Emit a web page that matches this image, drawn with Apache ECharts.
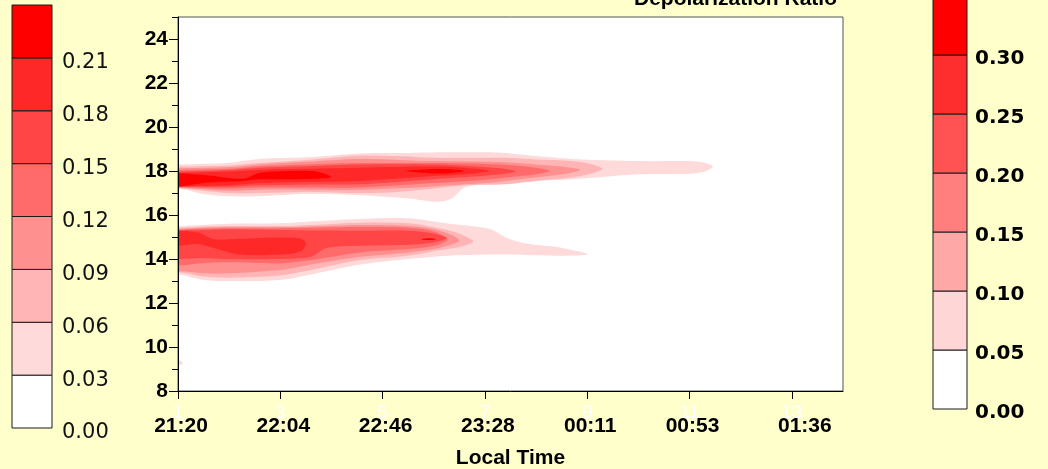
<!DOCTYPE html>
<html>
<head>
<meta charset="utf-8">
<script src="https://cdn.jsdelivr.net/npm/echarts@6/dist/echarts.min.js"></script>
<style>
  html, body { margin: 0; padding: 0; background: #FFFFCC; }
  #chart { width: 1048px; height: 469px; }
</style>
</head>
<body>
<div id="chart"></div>
<script>
// Profile numbers along the time axis and their local-time stamps
const profileTicks = [1, 3, 5, 7, 9, 11, 13];
const timeLabels = ['21:20', '22:04', '22:46', '23:28', '00:11', '00:53', '01:36'];
const altitudeTicks = [8, 10, 12, 14, 16, 18, 20, 22, 24];

// Contour fill colours, one per level (0.03, 0.06, ... 0.21 and above)
const contourColors = ['#FFDADA', '#FFB5B5', '#FF9090', '#FF6B6B', '#FF4545', '#FF2828', '#FF0000'];

// Colour scale on the left: 0.00 - 0.24 in steps of 0.03
const leftScaleBreaks = [0, 0.03, 0.06, 0.09, 0.12, 0.15, 0.18, 0.21, 0.24];
const leftScaleColors = ['#FFFFFF', '#FFDADA', '#FFB5B5', '#FF9090', '#FF6B6B', '#FF4545', '#FF2828', '#FF0000'];

// Colour scale on the right: 0.00 - 0.35 in steps of 0.05
const rightScaleBreaks = [0, 0.05, 0.10, 0.15, 0.20, 0.25, 0.30, 0.35];
const rightScaleColors = ['#FFFFFF', '#FFD6D6', '#FFA8A8', '#FF7F7F', '#FF5252', '#FF2E2E', '#FF0000'];

// Contour outlines: [profile, bottom altitude km, top altitude km]
// Upper layer (about 17-19 km)
const upper003 = [[1.0,17.2,18.3],[1.5,16.95,18.33],[2.0,16.85,18.38],[2.6,16.85,18.55],[3.5,16.95,18.62],[4.56,16.9,18.8],[5.5,16.75,18.82],[6.1,16.6,18.85],[6.35,16.75,18.85],[6.6,17.25,18.85],[7.0,17.4,18.85],[7.4,17.45,18.82],[8.0,17.55,18.68],[8.7,17.62,18.55],[10.0,17.85,18.45],[11.0,17.88,18.45],[11.3,17.98,18.38],[11.46,18.2,18.2]];
const upper006 = [[1.0,17.22,18.2],[2.0,17.0,18.25],[2.6,17.0,18.36],[3.5,17.05,18.5],[4.56,17.0,18.7],[5.3,17.05,18.68],[6.0,17.2,18.6],[6.6,17.35,18.6],[7.4,17.4,18.6],[8.0,17.55,18.52],[8.7,17.7,18.45],[9.1,17.9,18.3],[9.3,18.1,18.1]];
const upper009 = [[1.0,17.24,18.12],[2.0,17.1,18.18],[2.6,17.15,18.3],[3.5,17.15,18.42],[4.56,17.15,18.55],[6.0,17.3,18.45],[7.0,17.45,18.42],[7.4,17.55,18.4],[8.0,17.7,18.3],[8.5,17.85,18.2],[8.86,18.05,18.05]];
const upper012 = [[1.0,17.26,18.05],[2.0,17.2,18.1],[2.6,17.25,18.22],[3.5,17.25,18.3],[4.56,17.25,18.36],[6.0,17.45,18.36],[7.0,17.6,18.32],[7.6,17.75,18.25],[8.0,17.85,18.15],[8.27,18.0,18.0]];
const upper015 = [[1.0,17.28,17.98],[2.0,17.28,18.05],[2.6,17.35,18.15],[3.5,17.38,18.22],[4.56,17.4,18.3],[6.0,17.63,18.3],[6.8,17.75,18.22],[7.3,17.85,18.12],[7.6,17.98,17.98]];
const upper018 = [[1.0,17.3,17.92],[2.0,17.35,17.98],[2.6,17.45,18.05],[3.5,17.5,18.1],[4.56,17.55,18.15],[6.0,17.77,18.2],[6.6,17.85,18.15],[7.1,18.0,18.0]];
const upper021a = [[1.0,17.3,17.9],[1.6,17.48,17.8],[2.27,17.55,17.65],[2.6,17.62,17.92],[3.2,17.63,18.0],[3.7,17.65,17.98],[4.0,17.73,17.73]];
const upper021b = [[5.45,18.0,18.0],[5.9,17.9,18.08],[6.3,17.9,18.08],[6.6,18.0,18.0]];

// Lower layer (about 13-16 km)
const lower003 = [[1.0,13.3,15.5],[1.5,13.05,15.55],[2.0,13.0,15.6],[3.0,13.05,15.62],[3.6,13.3,15.7],[4.56,13.75,15.82],[5.5,14.0,15.85],[6.3,14.15,15.6],[7.1,14.2,15.36],[7.43,14.2,14.95],[7.8,14.18,14.7],[8.46,14.15,14.52],[9.0,14.22,14.22]];
const lower006 = [[1.0,13.4,15.42],[1.5,13.2,15.48],[2.0,13.15,15.5],[3.0,13.25,15.5],[3.6,13.5,15.55],[4.56,13.95,15.65],[5.5,14.15,15.62],[6.1,14.4,15.4],[6.5,14.55,15.15],[6.77,14.8,14.8]];
const lower009 = [[1.0,13.45,15.38],[1.5,13.35,15.42],[2.0,13.35,15.45],[3.0,13.5,15.45],[3.6,13.75,15.48],[4.56,14.1,15.55],[5.5,14.3,15.5],[6.1,14.5,15.3],[6.5,14.85,14.85]];
const lower012 = [[1.0,13.7,15.33],[1.4,13.8,15.38],[2.0,13.85,15.4],[3.0,13.8,15.4],[3.6,13.95,15.42],[4.56,14.3,15.45],[5.5,14.45,15.42],[6.0,14.6,15.25],[6.27,14.9,14.9]];
const lower015 = [[1.0,14.0,15.3],[1.5,14.05,15.32],[2.0,14.0,15.35],[3.0,14.0,15.32],[3.6,14.1,15.3],[3.9,14.5,15.3],[4.56,14.6,15.28],[5.5,14.65,15.28],[6.0,14.75,15.15],[6.25,14.95,14.95]];
const lower018 = [[1.0,14.6,15.28],[1.4,14.68,15.2],[1.7,14.5,14.9],[2.2,14.2,14.92],[3.0,14.2,14.98],[3.4,14.35,14.92],[3.5,14.7,14.7]];
const lower021 = [[5.75,14.9,14.9],[5.9,14.86,14.94],[6.05,14.9,14.9]];

// Small patch near 9 km at the start of the record
const spot003 = [[1.0,9.15,9.4],[1.1,9.28,9.28]];

// Bands in drawing order: weaker levels first, stronger on top
const bands = [
  { level: 0, pts: upper003 }, { level: 0, pts: lower003 }, { level: 0, pts: spot003 },
  { level: 1, pts: upper006 }, { level: 1, pts: lower006 },
  { level: 2, pts: upper009 }, { level: 2, pts: lower009 },
  { level: 3, pts: upper012 }, { level: 3, pts: lower012 },
  { level: 4, pts: upper015 }, { level: 4, pts: lower015 },
  { level: 5, pts: upper018 }, { level: 5, pts: lower018 },
  { level: 6, pts: upper021a }, { level: 6, pts: upper021b }, { level: 6, pts: lower021 }
];

const X_MIN = 1, X_MAX = 14, Y_MIN = 8, Y_MAX = 25;
const boldFont = 'Liberation Sans, Arial, sans-serif';
const scaleFont = 'DejaVu Sans, Verdana, sans-serif';

function renderBand(params, api) {
  const band = bands[api.value(2)];
  const top = band.pts.map(p => api.coord([p[0], p[2]]));
  const bottom = [];
  for (let i = band.pts.length - 1; i >= 0; i--) {
    const p = band.pts[i];
    if (p[1] !== p[2]) bottom.push(api.coord([p[0], p[1]]));
  }
  // bands that start at the first profile run on past the left frame and are clipped there
  if (band.pts[0][0] === X_MIN && band.pts[0][1] !== band.pts[0][2]) {
    top.unshift([top[0][0] - 30, top[0][1]]);
    const last = bottom[bottom.length - 1];
    bottom.push([last[0] - 30, last[1]]);
  }
  const cs = params.coordSys;
  return {
    type: 'polygon',
    shape: { points: top.concat(bottom), smooth: 0.3 },
    style: { fill: contourColors[band.level], stroke: null },
    clipPath: { type: 'rect', shape: { x: cs.x, y: cs.y, width: cs.width, height: cs.height } },
    silent: true
  };
}

function scaleRenderer(breaks, colors) {
  return function (params, api) {
    const i = api.value(2);
    const p0 = api.coord([0, breaks[i]]);
    const p1 = api.coord([1, breaks[i + 1]]);
    return {
      type: 'rect',
      shape: { x: p0[0], y: p1[1], width: p1[0] - p0[0], height: p0[1] - p1[1] },
      style: { fill: colors[i], stroke: '#1a1a1a', lineWidth: 1 },
      silent: true
    };
  };
}

const chart = echarts.init(document.getElementById('chart'));
chart.setOption({
  backgroundColor: '#FFFFCC',
  animation: false,
  title: {
    text: 'Depolarization Ratio',
    right: 211,
    top: -11,
    padding: 0,
    textStyle: { fontFamily: boldFont, fontSize: 21, fontWeight: 'bold', color: '#000' }
  },
  grid: [
    { left: 178, right: 205, top: 17, bottom: 78, show: true, backgroundColor: '#FFFFFF', borderColor: '#555', borderWidth: 1, outerBoundsMode: 'none', containLabel: false },
    { left: 12, top: 5, width: 40, height: 423, outerBoundsMode: 'none', containLabel: false },
    { left: 933, top: -4, width: 34, height: 413, outerBoundsMode: 'none', containLabel: false }
  ],
  xAxis: [
    {
      gridIndex: 0, type: 'value', min: X_MIN, max: X_MAX, interval: 1, position: 'bottom', z: 5,
      name: 'Local Time', nameLocation: 'middle', nameGap: 57,
      nameTextStyle: { fontFamily: boldFont, fontSize: 21, fontWeight: 'bold', color: '#000' },
      axisLine: { lineStyle: { color: '#000', width: 1 } },
      axisTick: { customValues: profileTicks, length: 8, lineStyle: { color: '#000' } },
      axisLabel: {
        customValues: profileTicks, margin: 25,
        formatter: v => {
          const t = timeLabels[profileTicks.indexOf(v)];
          return v === 13 ? '{last|' + t + '}' : '{t|' + t + '}';
        },
        rich: {
          t: { fontFamily: boldFont, fontSize: 21, fontWeight: 'bold', color: '#000', padding: [0, 0, 0, 6] },
          last: { fontFamily: boldFont, fontSize: 21, fontWeight: 'bold', color: '#000', padding: [0, 0, 0, 26] }
        }
      },
      splitLine: { show: false }
    },
    {
      gridIndex: 0, type: 'value', min: X_MIN, max: X_MAX, interval: 1, position: 'bottom', offset: 0, z: 4,
      axisLine: { show: false }, axisTick: { show: false }, splitLine: { show: false },
      axisLabel: { customValues: profileTicks, margin: 12, color: '#FFFFFF', fontFamily: boldFont, fontSize: 19 }
    },
    { gridIndex: 1, type: 'value', min: 0, max: 1, show: false },
    { gridIndex: 2, type: 'value', min: 0, max: 1, show: false }
  ],
  yAxis: [
    {
      gridIndex: 0, type: 'value', min: Y_MIN, max: Y_MAX, interval: 1, z: 5,
      axisLine: { show: true, lineStyle: { color: '#000', width: 1 } },
      axisTick: { show: true, length: 6, lineStyle: { color: '#000' } },
      axisLabel: {
        margin: 10, fontFamily: boldFont, fontSize: 21, fontWeight: 'bold', color: '#000',
        formatter: v => (altitudeTicks.indexOf(v) >= 0 ? String(v) : '')
      },
      splitLine: { show: false }
    },
    {
      gridIndex: 0, type: 'value', min: Y_MIN, max: Y_MAX, interval: 1, position: 'left', offset: 0, z: 5,
      axisLine: { show: false },
      axisTick: { show: true, customValues: altitudeTicks, length: 9, lineStyle: { color: '#000' } },
      axisLabel: { show: false },
      splitLine: { show: false }
    },
    {
      gridIndex: 1, type: 'value', min: 0, max: 0.24, interval: 0.03, position: 'right',
      axisLine: { show: false }, axisTick: { show: false }, splitLine: { show: false },
      axisLabel: {
        margin: 10,
        formatter: v => (v > 0.235 ? '' : '{s|' + v.toFixed(2) + '}'),
        rich: { s: { fontFamily: scaleFont, fontSize: 21, color: '#111', padding: [10, 0, 0, 0] } }
      }
    },
    {
      gridIndex: 2, type: 'value', min: 0, max: 0.35, interval: 0.05, position: 'right',
      axisLine: { show: false }, axisTick: { show: false }, splitLine: { show: false },
      axisLabel: {
        margin: 8,
        formatter: v => (v > 0.345 ? '' : '{s|' + v.toFixed(2) + '}'),
        rich: { s: { fontFamily: scaleFont, fontSize: 20, fontWeight: 'bold', color: '#000', padding: [8, 0, 0, 0] } }
      }
    }
  ],
  series: [
    {
      type: 'custom', xAxisIndex: 0, yAxisIndex: 0, z: 2,
      renderItem: renderBand,
      encode: { x: 0, y: 1 },
      data: bands.map((b, i) => [b.pts[0][0], b.pts[0][1], i])
    },
    {
      type: 'custom', xAxisIndex: 2, yAxisIndex: 2,
      renderItem: scaleRenderer(leftScaleBreaks, leftScaleColors),
      encode: { x: 0, y: 1 },
      data: leftScaleColors.map((c, i) => [0, leftScaleBreaks[i], i])
    },
    {
      type: 'custom', xAxisIndex: 3, yAxisIndex: 3,
      renderItem: scaleRenderer(rightScaleBreaks, rightScaleColors),
      encode: { x: 0, y: 1 },
      data: rightScaleColors.map((c, i) => [0, rightScaleBreaks[i], i])
    }
  ]
});
</script>
</body>
</html>
